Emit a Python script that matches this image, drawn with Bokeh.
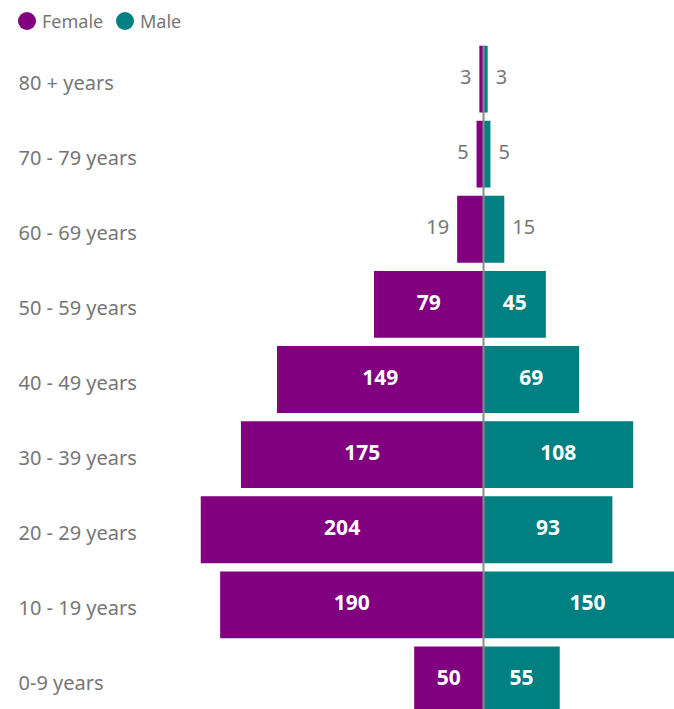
import numpy as np
from bokeh.plotting import figure
from bokeh.models import ColumnDataSource, Range1d, Span, Div
from bokeh.layouts import column
from bokeh.core.properties import value
from bokeh.embed import file_html
from bokeh.resources import INLINE

# ---- data (bottom to top) ----
categories = ["0-9 years", "10 - 19 years", "20 - 29 years", "30 - 39 years",
              "40 - 49 years", "50 - 59 years", "60 - 69 years", "70 - 79 years",
              "80 + years"]
female = [50, 190, 204, 175, 149, 79, 19, 5, 3]
male = [55, 150, 93, 108, 69, 45, 15, 5, 3]
series_names = ["Female", "Male"]

FEMALE_COLOR = "#800080"
MALE_COLOR = "#008080"
TEXT_GRAY = "#767676"
FONT = "Noto Sans"

# ---- layout constants ----
W = 674
H = 664
LEG_H = 45
SCALE = 1.386           # px per unit
CENTER_PX = 483         # px from frame left to the zero line
x_start = -CENTER_PX / SCALE
x_end = (W - CENTER_PX) / SCALE
BAR_H = 0.89
INSIDE_MIN = 30         # values below this get their label outside the bar

pos = np.arange(len(categories))
f = np.array(female)
m = np.array(male)

src = ColumnDataSource(dict(
    y=pos, cat=categories,
    f_left=-f, zero=np.zeros(len(f)), m_right=m,
    lab_x=np.full(len(f), x_start + 18 / SCALE),
))

p = figure(width=W, height=H, x_range=Range1d(x_start, x_end),
           y_range=Range1d(-0.393, 8.446), output_backend="svg",
           toolbar_location=None, min_border=0)
p.axis.visible = False
p.grid.visible = False
p.outline_line_color = None
p.background_fill_color = "white"
p.border_fill_color = "white"

p.hbar(y="y", left="f_left", right="zero", height=BAR_H, source=src,
       fill_color=FEMALE_COLOR, line_color=None)
p.hbar(y="y", left="zero", right="m_right", height=BAR_H, source=src,
       fill_color=MALE_COLOR, line_color=None)

p.add_layout(Span(location=0, dimension="height", line_color="#8a8a8a", line_width=2))

# category labels (left aligned)
p.text(x="lab_x", y="y", text="cat", source=src, text_align="left",
       text_baseline="middle", y_offset=3, text_font=value(FONT),
       text_font_size="20px", text_color=TEXT_GRAY)

# value labels
fin = f >= INSIDE_MIN
min_ = m >= INSIDE_MIN
in_src_f = ColumnDataSource(dict(x=(-f / 2)[fin], y=pos[fin], t=[str(v) for v in f[fin]]))
in_src_m = ColumnDataSource(dict(x=(m / 2)[min_], y=pos[min_], t=[str(v) for v in m[min_]]))
out_src_f = ColumnDataSource(dict(x=(-f)[~fin], y=pos[~fin], t=[str(v) for v in f[~fin]]))
out_src_m = ColumnDataSource(dict(x=m[~min_], y=pos[~min_], t=[str(v) for v in m[~min_]]))

for s in (in_src_f, in_src_m):
    p.text(x="x", y="y", text="t", source=s, text_align="center",
           text_baseline="middle", y_offset=-2, text_font=value(FONT),
           text_font_size="21px", text_font_style="bold", text_color="white")
p.text(x="x", y="y", text="t", source=out_src_f, text_align="right",
       text_baseline="middle", x_offset=-8, y_offset=-2, text_font=value(FONT),
       text_font_size="20px", text_color=TEXT_GRAY)
p.text(x="x", y="y", text="t", source=out_src_m, text_align="left",
       text_baseline="middle", x_offset=8, y_offset=-2, text_font=value(FONT),
       text_font_size="20px", text_color=TEXT_GRAY)

legend_html = f"""
<div style="position:relative;width:{W}px;height:{LEG_H}px;font-family:'{FONT}';font-size:18px;color:{TEXT_GRAY};">
  <span style="position:absolute;left:18px;top:12px;width:18px;height:18px;border-radius:50%;background:{FEMALE_COLOR};"></span>
  <span style="position:absolute;left:42px;top:10px;line-height:22px;">{series_names[0]}</span>
  <span style="position:absolute;left:116px;top:12px;width:18px;height:18px;border-radius:50%;background:{MALE_COLOR};"></span>
  <span style="position:absolute;left:140px;top:10px;line-height:22px;">{series_names[1]}</span>
</div>
"""
legend = Div(text=legend_html, width=W, height=LEG_H, margin=0)

layout = column(legend, p, spacing=0)
open("out.html", "w").write(file_html(layout, INLINE))
